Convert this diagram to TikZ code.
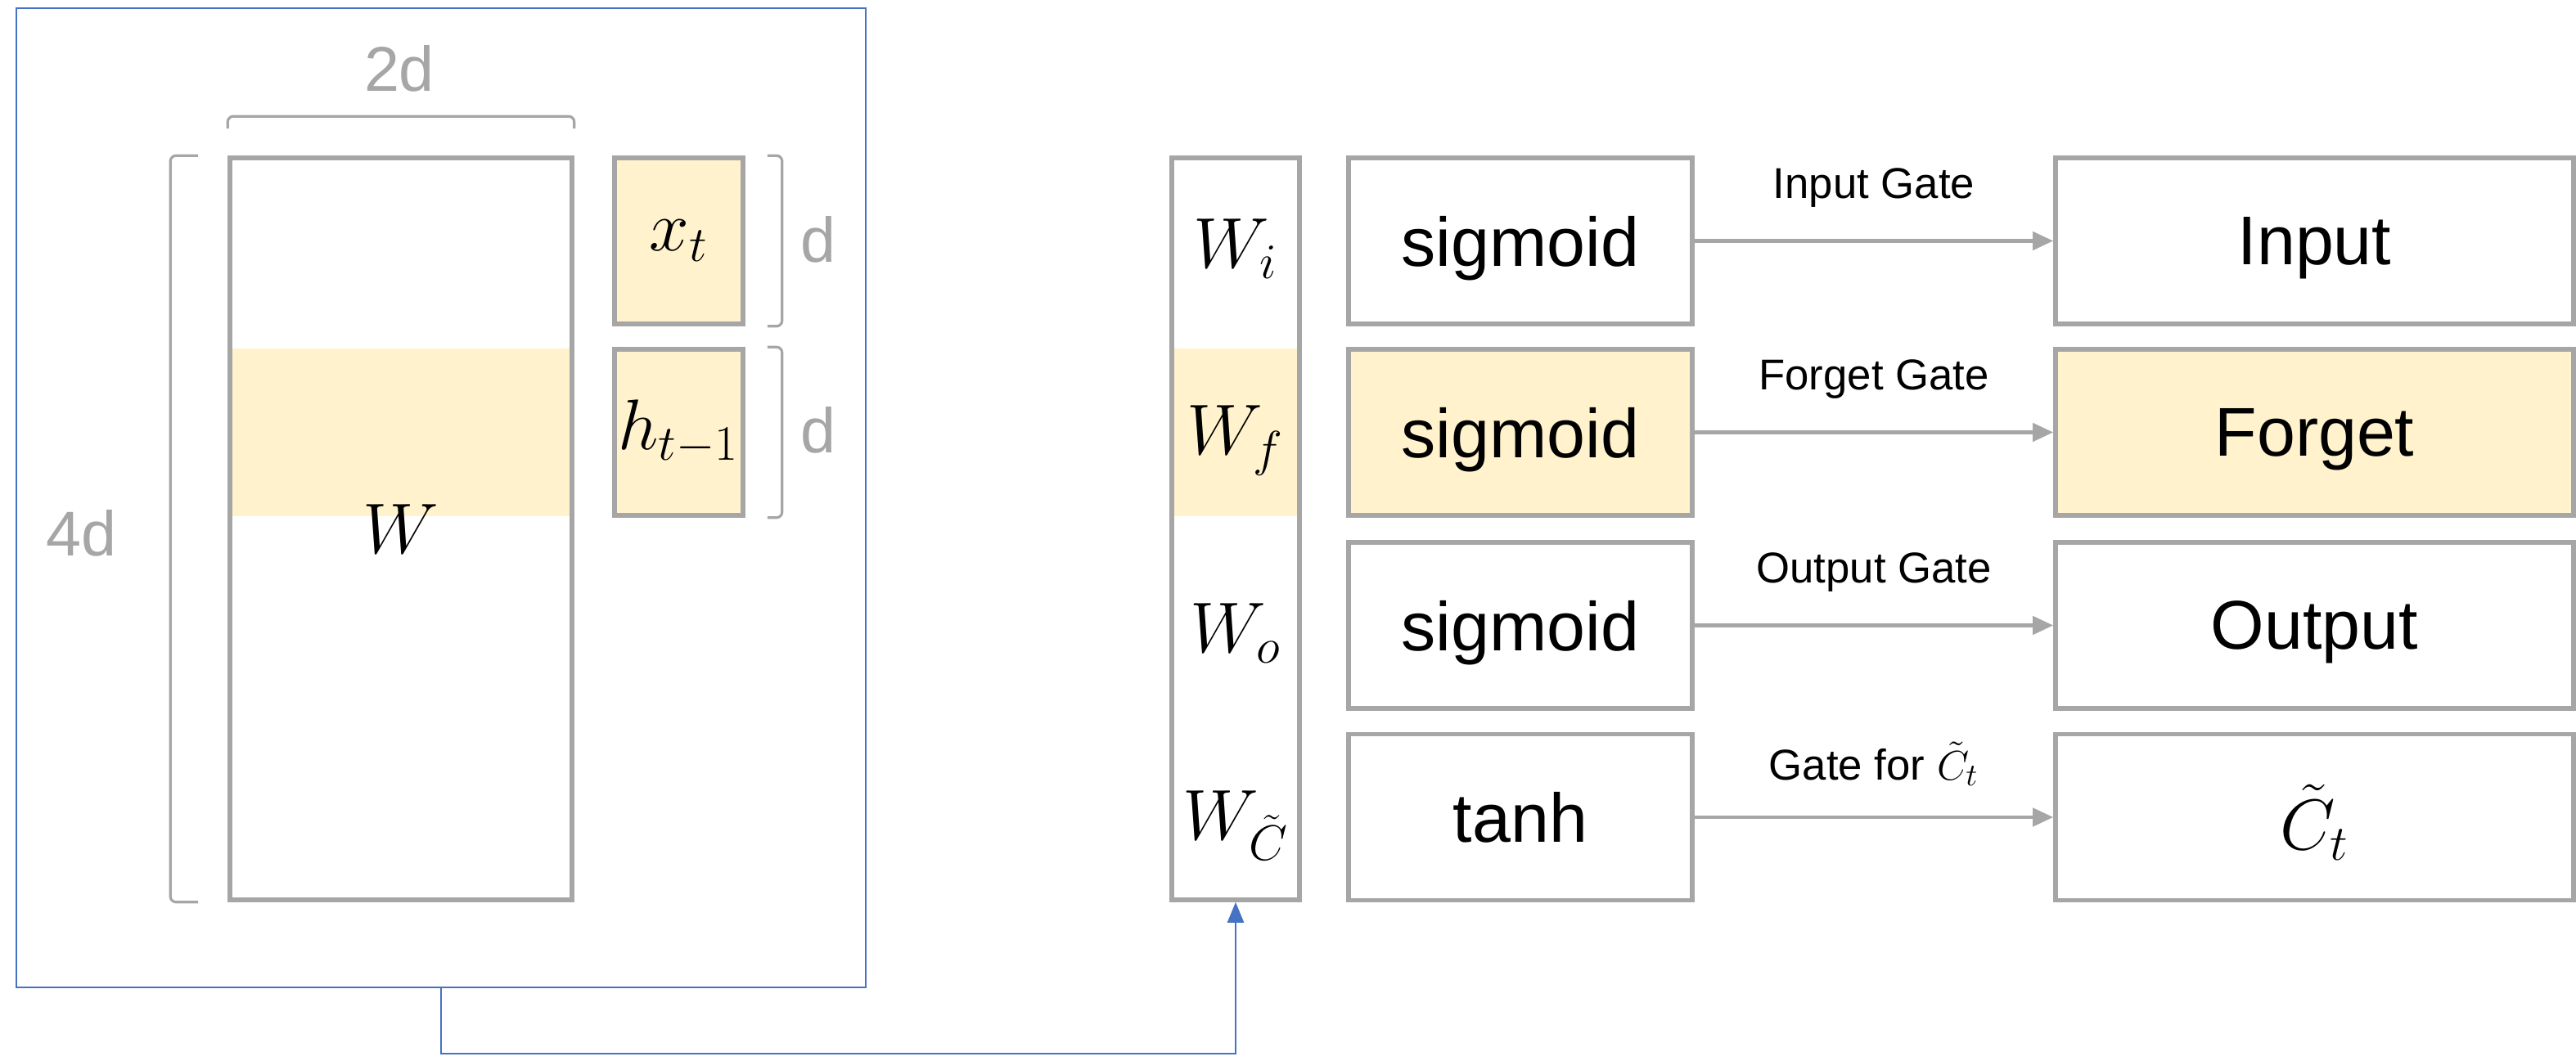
\documentclass[tikz,border=0pt]{standalone}
\usepackage{fontspec}
\setmainfont{Liberation Sans}
\usepackage{amsmath}
\usetikzlibrary{arrows.meta}
\definecolor{boxgray}{HTML}{A6A6A6}
\definecolor{hlyellow}{HTML}{FFF2CC}
\definecolor{linkblue}{HTML}{4472C4}
\begin{document}
\begin{tikzpicture}[cell/.style={draw=boxgray,line width=1.6pt,inner sep=0pt},
                    gate/.style={cell,minimum width=4.2cm,minimum height=2.03cm,text depth=0pt,font=\fontsize{24}{28}\selectfont},
                    result/.style={cell,minimum width=6.33cm,minimum height=2.03cm,text depth=0pt,font=\fontsize{24}{28}\selectfont},
                    vec/.style={cell,minimum width=1.57cm,minimum height=2.03cm,font=\fontsize{23}{27}\selectfont},
                    highlight/.style={fill=hlyellow},
                    brace/.style={draw=boxgray,line width=0.9pt,rounded corners=2pt},
                    dim label/.style={text=boxgray,font=\fontsize{22}{26}\selectfont},
                    weight label/.style={yshift=-1mm,font=\fontsize{25}{30}\selectfont},
                    gate arrow/.style={draw=boxgray,line width=1.3pt,-{Triangle[length=0.25cm,width=0.22cm]}},
                    gate label/.style={midway,yshift=0.65cm,font=\fontsize{15}{18}\selectfont},
                    frame/.style={draw=linkblue,line width=0.7pt,minimum width=10.38cm,minimum height=11.97cm},
                    link/.style={draw=linkblue,line width=0.7pt,-{Triangle[length=0.25cm,width=0.2cm]}}]
    \path[use as bounding box] (0,0) rectangle (31.48,-12.97);

    \node[frame] (frame) at (5.39,-6.085) {};

    \fill[highlight] (2.84,-4.26) rectangle (6.96,-6.31);
    \node[cell,minimum width=4.18cm,minimum height=9.07cm,font=\fontsize{33}{40}\selectfont] (W) at (4.90,-6.465) {$W$};
    \node[vec,highlight] (xt) at (8.295,-2.945) {$x_t$};
    \node[vec,highlight] (ht) at (8.295,-5.285) {$h_{t-1}$};

    \draw[brace] ([yshift=3.3mm]W.north west) -- ([yshift=4.8mm]W.north west) -- ([yshift=4.8mm]W.north east) -- ([yshift=3.3mm]W.north east);
    \draw[brace] ([xshift=-3.6mm]W.north west) -- ([xshift=-7mm]W.north west) -- ([xshift=-7mm]W.south west) -- ([xshift=-3.6mm]W.south west);
    \draw[brace] ([xshift=2.7mm]xt.north east) -- ([xshift=4.5mm]xt.north east) -- ([xshift=4.5mm]xt.south east) -- ([xshift=2.7mm]xt.south east);
    \draw[brace] ([xshift=2.7mm]ht.north east) -- ([xshift=4.5mm]ht.north east) -- ([xshift=4.5mm]ht.south east) -- ([xshift=2.7mm]ht.south east);
    \node[dim label] (width label) at (4.88,-0.84) {2d};
    \node[dim label] (height label) at (1.00,-6.52) {4d};
    \node[dim label] (xt label) at (10.00,-2.93) {d};
    \node[dim label] (ht label) at (10.00,-5.26) {d};

    \fill[highlight] (14.35,-4.26) rectangle (15.85,-6.31);
    \node[cell,minimum width=1.56cm,minimum height=9.07cm] (wcol) at (15.10,-6.465) {};
    \node[weight label] (wi) at (15.10,-2.945) {$W_i$};
    \node[weight label] (wf) at (15.10,-5.285) {$W_f$};
    \node[weight label] (wo) at (15.10,-7.645) {$W_o$};
    \node[weight label] (wc) at (15.10,-9.99) {$W_{\tilde{C}}$};

    \node[gate] (sig i) at (18.58,-2.945) {sigmoid};
    \node[gate,highlight] (sig f) at (18.58,-5.285) {sigmoid};
    \node[gate] (sig o) at (18.58,-7.645) {sigmoid};
    \node[gate] (tanh c) at (18.58,-9.99) {tanh};

    \node[result] (input) at (28.285,-2.945) {Input};
    \node[result,highlight] (forget) at (28.285,-5.285) {Forget};
    \node[result] (output) at (28.285,-7.645) {Output};
    \node[result] (ctilde) at (28.285,-9.99) {$\tilde{C}_t$};

    \draw[gate arrow] (sig i) -- (input) node[gate label] {Input Gate};
    \draw[gate arrow] (sig f) -- (forget) node[gate label] {Forget Gate};
    \draw[gate arrow] (sig o) -- (output) node[gate label] {Output Gate};
    \draw[gate arrow] (tanh c) -- (ctilde) node[gate label] {Gate for $\tilde{C}_t$};

    \draw[link] (frame.south) -- ++(0,-0.8) -| (wcol.south);
\end{tikzpicture}
\end{document}
